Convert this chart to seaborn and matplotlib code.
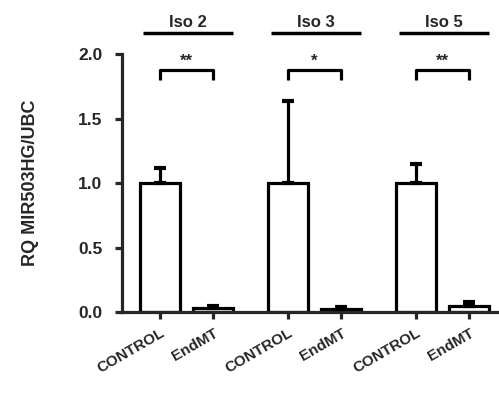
import numpy as np
import pandas as pd
import matplotlib
matplotlib.use("Agg")
import matplotlib.pyplot as plt
import seaborn as sns

# data
groups = ["Iso 2", "Iso 3", "Iso 5"]
conditions = ["CONTROL", "EndMT"]
positions = [0.0, 1.0, 2.4, 3.4, 4.8, 5.8]
means = [1.0, 0.03, 1.0, 0.02, 1.0, 0.045]
sems = [0.115, 0.02, 0.64, 0.015, 0.15, 0.035]
stars = ["**", "*", "**"]

sns.set_style("ticks")
plt.rcParams["font.family"] = ["Liberation Sans", "DejaVu Sans"]
plt.rcParams["font.weight"] = "bold"

df = pd.DataFrame({
    "pos": positions,
    "rq": means,
    "cond": conditions * len(groups),
})

fig = plt.figure(figsize=(4.99, 4.01), dpi=100)
ax = fig.add_axes([0.2445, 0.222, 0.752, 0.643])

sns.barplot(data=df, x="pos", y="rq", native_scale=True, width=0.75,
            color="white", edgecolor="black", linewidth=2.3,
            errorbar=None, ax=ax)
ax.errorbar(positions, means, yerr=[np.zeros(len(sems)), sems], fmt="none",
            ecolor="black", elinewidth=2.3, capsize=4, capthick=3, zorder=1)

ax.set_xlim(-0.71, 6.33)
ax.set_ylim(0, 2.0)
ax.set_yticks([0.0, 0.5, 1.0, 1.5, 2.0])
ax.set_yticklabels(["0.0", "0.5", "1.0", "1.5", "2.0"], fontsize=12.5, fontweight="bold")
ax.set_xticks(positions)
ax.set_xticklabels(conditions * len(groups), rotation=30, ha="right",
                   rotation_mode="anchor", fontsize=11, fontweight="bold")
ax.set_xlabel("")
ax.set_ylabel("RQ MIR503HG/UBC", fontsize=13, fontweight="bold", labelpad=28)

for side in ["top", "right"]:
    ax.spines[side].set_visible(False)
for side in ["left", "bottom"]:
    ax.spines[side].set_linewidth(2.3)
ax.tick_params(axis="y", width=2.3, length=5, pad=9)
ax.tick_params(axis="x", width=2.3, length=5, pad=5)

for i, g in enumerate(groups):
    x0 = positions[2 * i]
    x1 = positions[2 * i + 1]
    # significance bracket
    ax.plot([x0, x0, x1, x1], [1.80, 1.88, 1.88, 1.80], color="black",
            lw=2.3, clip_on=False, solid_capstyle="butt")
    ax.text((x0 + x1) / 2, 1.885, stars[i], ha="center", va="bottom",
            fontsize=12, fontweight="bold")
    # group header
    ax.plot([x0 - 0.32, x1 + 0.38], [2.165, 2.165], color="black", lw=2.5,
            clip_on=False, solid_capstyle="butt")
    ax.text((x0 + x1) / 2 + 0.03, 2.19, g, ha="center", va="bottom",
            fontsize=12, fontweight="bold")

fig.savefig("out.png", dpi=100)
